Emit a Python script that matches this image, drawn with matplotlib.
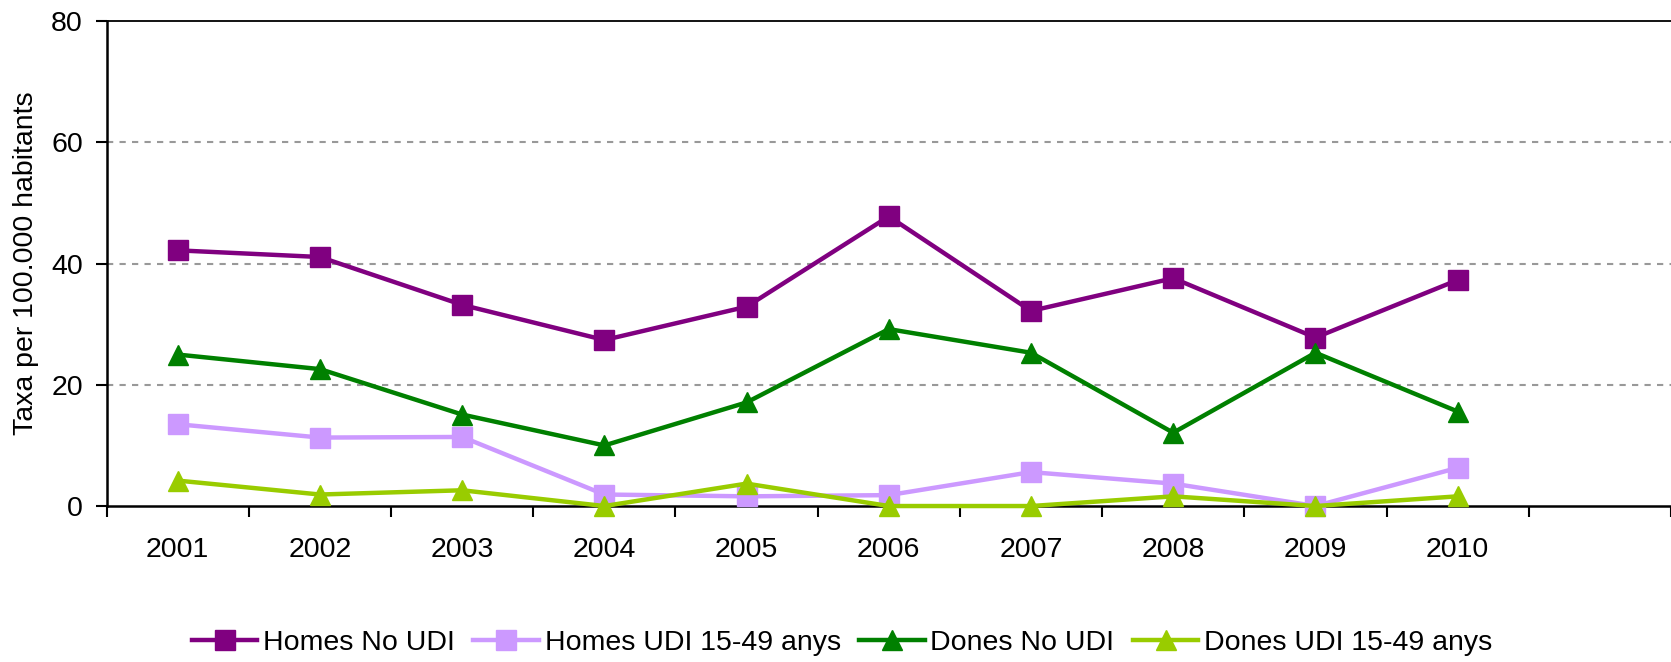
import matplotlib
matplotlib.use("Agg")
import matplotlib.pyplot as plt
import numpy as np

years = ["2001", "2002", "2003", "2004", "2005", "2006", "2007", "2008", "2009", "2010"]
homes_no_udi = [42.2, 41.1, 33.2, 27.4, 32.9, 47.8, 32.2, 37.6, 27.8, 37.3]
homes_udi = [13.5, 11.3, 11.4, 1.9, 1.6, 1.8, 5.6, 3.7, 0.0, 6.3]
dones_no_udi = [25.0, 22.6, 15.1, 10.0, 17.1, 29.2, 25.3, 12.1, 25.3, 15.6]
dones_udi = [4.2, 1.9, 2.6, 0.0, 3.7, 0.0, 0.0, 1.6, 0.0, 1.6]
series_names = ["Homes No UDI", "Homes UDI 15-49 anys", "Dones No UDI", "Dones UDI 15-49 anys"]
y_ticks = [0, 20, 40, 60, 80]

plt.rcParams['font.family'] = ['Liberation Sans', 'DejaVu Sans']
FS = 20.5

fig = plt.figure(figsize=(16.71, 6.62), dpi=100)
ax = fig.add_axes([0.0638, 0.2356, 0.9362, 0.7322])

x = np.arange(len(years))
styles = [
    (homes_no_udi, "#800080", "s", 14),
    (homes_udi, "#CC99FF", "s", 14),
    (dones_no_udi, "#008000", "^", 15),
    (dones_udi, "#99CC00", "^", 15),
]
for (vals, col, mk, ms), name in zip(styles, series_names):
    ax.plot(x, vals, color=col, lw=3.2, marker=mk, markersize=ms,
            markerfacecolor=col, markeredgecolor=col, label=name, clip_on=False, zorder=3)

ax.set_xlim(-0.5, len(years) + 0.5)
ax.set_ylim(0, 80)
ax.set_yticks(y_ticks)
ax.set_yticklabels([str(v) for v in y_ticks], fontsize=FS)
for v in y_ticks[1:4]:
    ax.axhline(v, color="#999999", lw=1.5, linestyle=(0, (3, 3)), zorder=1)

ax.set_xticks(x)
ax.set_xticklabels(years, fontsize=FS)
ax.set_xticks(np.arange(-0.5, len(years) + 1.0, 1.0), minor=True)
ax.tick_params(axis="x", which="major", length=0, pad=22)
ax.tick_params(axis="x", which="minor", length=8, width=1.5, direction="out")
ax.tick_params(axis="y", length=8, width=1.5, direction="out", pad=9)

for s in ["left", "bottom", "top"]:
    ax.spines[s].set_color("black")
    ax.spines[s].set_linewidth(1.8)
ax.spines["top"].set_linewidth(1.3)
ax.spines["right"].set_visible(False)

ax.set_ylabel("Taxa per 100.000 habitants", fontsize=FS)
ax.yaxis.set_label_coords(-0.043, 0.5)

leg = fig.legend(loc="center", bbox_to_anchor=(0.504, 0.029), ncol=4, frameon=False,
                 fontsize=FS, handlelength=2.3, handletextpad=0.2, columnspacing=0.65)

fig.savefig("out.png", dpi=100)
